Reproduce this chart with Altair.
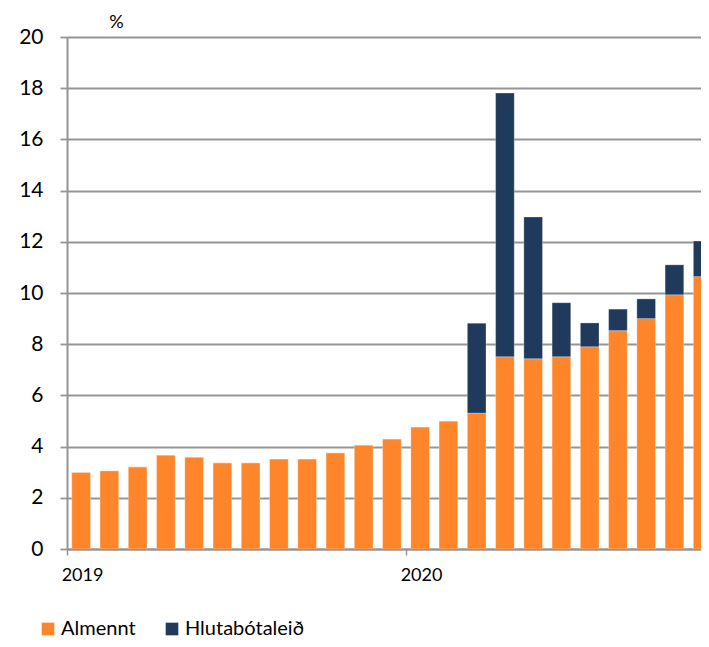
import altair as alt
import pandas as pd

# Monthly data, Jan 2019 .. Nov 2020
month_index = list(range(23))
almennt = [3.0, 3.06, 3.21, 3.67, 3.59, 3.37, 3.37, 3.52, 3.52, 3.76, 4.06, 4.30,
           4.77, 5.0, 5.31, 7.51, 7.43, 7.51, 7.9, 8.53, 9.0, 9.93, 10.64]
hlutabotaleid = [0, 0, 0, 0, 0, 0, 0, 0, 0, 0, 0, 0,
                 0, 0, 3.51, 10.30, 5.54, 2.11, 0.93, 0.84, 0.77, 1.17, 1.39]
series_names = ["Almennt", "Hlutabótaleið"]
series_colors = ["#FF852A", "#1F3A5B"]
year_ticks = [0, 12]
year_labels = ["2019", "2020"]

rows = []
for i, m in enumerate(month_index):
    rows.append({"m": m, "series": series_names[0], "value": almennt[i], "order": 0})
    rows.append({"m": m, "series": series_names[1], "value": hlutabotaleid[i], "order": 1})
df = pd.DataFrame(rows)

label_expr = "datum.value == 0 ? '2019' : (datum.value == 12 ? '2020' : '')"

chart = (
    alt.Chart(df)
    .transform_stack(stack="value", groupby=["m"], as_=["y0", "y1"],
                     sort=[alt.SortField("order", order="ascending")])
    .transform_calculate(x0="datum.m + 0.17", x1="datum.m + 0.83")
    .mark_bar(clip=True, stroke="#ffffff", strokeOpacity=0.35, strokeWidth=0.8)
    .encode(
        x=alt.X("x0:Q",
                scale=alt.Scale(domain=[0, 22.44], nice=False, zero=False),
                axis=alt.Axis(values=year_ticks, labelExpr=label_expr, title=None,
                              grid=False, tickSize=6, tickWidth=1.5, tickColor="#959595",
                              domainColor="#959595", domainWidth=2,
                              labelFontSize=18, labelOffset=15, labelPadding=11,
                              labelColor="#000000", labelFlush=False, labelOverlap=False)),
        x2="x1:Q",
        y=alt.Y("y0:Q",
                scale=alt.Scale(domain=[0, 20], nice=False),
                axis=alt.Axis(values=list(range(0, 21, 2)), title="%", titleAngle=0,
                              titleX=49, titleY=-10, titleAlign="center",
                              titleBaseline="alphabetic", titleFontSize=18,
                              titleFontWeight="normal", titleColor="#000000",
                              grid=True, gridColor="#959595", gridWidth=1.8,
                              tickSize=7, tickWidth=1.8, tickColor="#959595",
                              domainColor="#959595", domainWidth=2,
                              labelFontSize=21, labelPadding=17, labelColor="#000000")),
        y2="y1:Q",
        color=alt.Color("series:N",
                        scale=alt.Scale(domain=series_names, range=series_colors),
                        legend=alt.Legend(orient="none", direction="horizontal",
                                          legendX=-29, legendY=582, title=None,
                                          symbolType="square", symbolSize=160,
                                          symbolStrokeWidth=0, labelFontSize=20,
                                          labelOffset=3, columnPadding=26,
                                          labelColor="#000000", padding=0)),
        order=alt.Order("order:Q"),
    )
    .properties(width=634, height=512,
                autosize=alt.AutoSizeParams(type="none"),
                padding={"left": 59, "top": 29, "right": 0, "bottom": 90})
    .configure(font="Lato")
    .configure_view(stroke=None)
)

chart.save("out.html", embed_options={"renderer": "svg", "actions": False})
